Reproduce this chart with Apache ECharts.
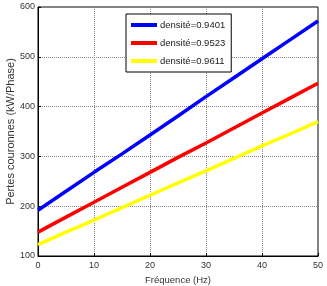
<!DOCTYPE html>
<html>
<head>
<meta charset="UTF-8">
<script src="https://cdn.jsdelivr.net/npm/echarts@6/dist/echarts.min.js"></script>
<style>html,body{margin:0;padding:0;background:#fff}</style>
</head>
<body>
<div id="main" style="width:327px;height:286px;"></div>
<script>
var freq = [0, 5, 10, 15, 20, 25, 30, 35, 40, 45, 50];
var names = ['densité=0.9401', 'densité=0.9523', 'densité=0.9611'];
var blue = [192, 230, 268, 305, 343, 381, 420, 458, 496, 534, 572];
var red = [148, 178, 208, 238, 268, 298, 327, 357, 387, 417, 447];
var yellow = [123, 148, 172, 197, 222, 247, 271, 296, 321, 345, 370];
var colors = ['#0000ff', '#ff0000', '#ffff00'];

var font = '"Liberation Sans", Arial, sans-serif';

function pairs(v) {
    return freq.map(function (f, i) { return [f, v[i]]; });
}

var myChart = echarts.init(document.getElementById('main'));
var option = {
    animation: false,
    grid: {
        left: 38, right: 9, top: 7, bottom: 30,
        containLabel: false, outerBoundsMode: 'none',
        show: true, borderColor: '#000', borderWidth: 1
    },
    legend: {
        orient: 'vertical',
        left: 126, top: 14,
        width: 102,
        itemWidth: 26, itemHeight: 4,
        itemGap: 8,
        padding: [6, 6, 6, 5],
        borderColor: '#000', borderWidth: 1,
        backgroundColor: '#fff',
        icon: 'rect',
        textStyle: { fontFamily: font, fontSize: 9.5, color: '#222', padding: [0, 0, 0, -2] },
        data: names
    },
    xAxis: {
        type: 'value', min: 0, max: 50, interval: 10,
        name: 'Fréquence (Hz)', nameLocation: 'middle', nameGap: 19,
        nameMoveOverlap: false,
        nameTextStyle: { fontFamily: font, fontSize: 9.5, color: '#333' },
        axisLine: { lineStyle: { color: '#000' } },
        axisTick: { inside: true, length: 3, lineStyle: { color: '#000' } },
        axisLabel: { fontFamily: font, fontSize: 9, color: '#333', margin: 5 },
        splitLine: { lineStyle: { color: '#888', type: [1, 1] } }
    },
    yAxis: {
        type: 'value', min: 100, max: 600, interval: 100,
        name: 'Pertes couronnes (kW/Phase)', nameLocation: 'middle', nameGap: 22,
        nameMoveOverlap: false,
        nameTextStyle: { fontFamily: font, fontSize: 11, color: '#333' },
        axisLine: { show: true, lineStyle: { color: '#000' } },
        axisTick: { inside: true, length: 3, lineStyle: { color: '#000' } },
        axisLabel: { fontFamily: font, fontSize: 9, color: '#333', margin: 3 },
        splitLine: { lineStyle: { color: '#888', type: [1, 1] } }
    },
    series: [blue, red, yellow].map(function (v, i) {
        return {
            name: names[i], type: 'line', data: pairs(v),
            symbol: 'none', color: colors[i],
            lineStyle: { width: 3.5, color: colors[i] }
        };
    })
};
myChart.setOption(option);
</script>
</body>
</html>
